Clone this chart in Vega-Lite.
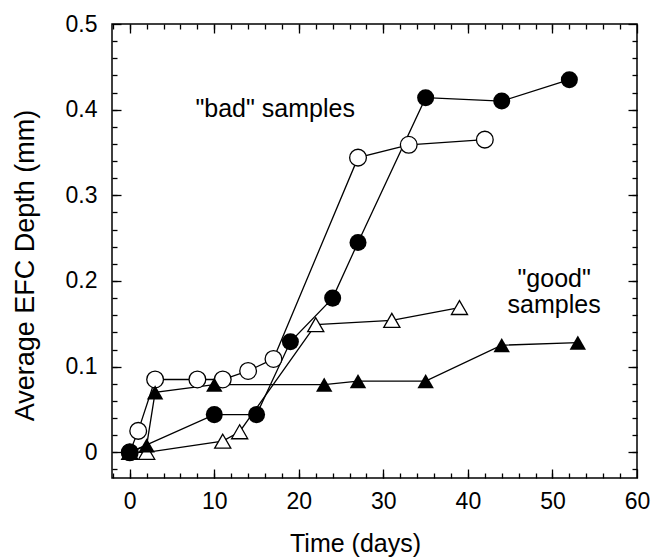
{
  "$schema": "https://vega.github.io/schema/vega-lite/v6.json",
  "width": 525,
  "height": 454,
  "autosize": "none",
  "padding": {"left": 112, "top": 24, "right": 15, "bottom": 79},
  "background": "white",
  "config": {
    "view": {"stroke": "black", "strokeWidth": 1.5},
    "font": "Liberation Sans",
    "axis": {
      "domain": false,
      "grid": false,
      "tickColor": "black",
      "tickWidth": 1.3,
      "labelColor": "black",
      "titleColor": "black",
      "labelFont": "Liberation Sans",
      "titleFont": "Liberation Sans",
      "labelFontSize": 23,
      "titleFontSize": 25,
      "titleFontWeight": "normal"
    }
  },
  "datasets": {
    "pts": [
      {"s": "A", "t": 0, "v": 0},
      {"s": "A", "t": 10, "v": 0.044},
      {"s": "A", "t": 15, "v": 0.044},
      {"s": "A", "t": 19, "v": 0.129},
      {"s": "A", "t": 24, "v": 0.18},
      {"s": "A", "t": 27, "v": 0.245},
      {"s": "A", "t": 35, "v": 0.414},
      {"s": "A", "t": 44, "v": 0.41},
      {"s": "A", "t": 52, "v": 0.435},
      {"s": "B", "t": 0, "v": 0},
      {"s": "B", "t": 1, "v": 0.025},
      {"s": "B", "t": 3, "v": 0.085},
      {"s": "B", "t": 8, "v": 0.085},
      {"s": "B", "t": 11, "v": 0.085},
      {"s": "B", "t": 14, "v": 0.095},
      {"s": "B", "t": 17, "v": 0.109},
      {"s": "B", "t": 27, "v": 0.344},
      {"s": "B", "t": 33, "v": 0.359},
      {"s": "B", "t": 42, "v": 0.365},
      {"s": "C", "t": 0, "v": 0},
      {"s": "C", "t": 2, "v": 0.008},
      {"s": "C", "t": 3, "v": 0.07},
      {"s": "C", "t": 10, "v": 0.079},
      {"s": "C", "t": 23, "v": 0.079},
      {"s": "C", "t": 27, "v": 0.083},
      {"s": "C", "t": 35, "v": 0.083},
      {"s": "C", "t": 44, "v": 0.125},
      {"s": "C", "t": 53, "v": 0.128},
      {"s": "D", "t": 0, "v": 0},
      {"s": "D", "t": 2, "v": 0},
      {"s": "D", "t": 11, "v": 0.013},
      {"s": "D", "t": 13, "v": 0.024},
      {"s": "D", "t": 22, "v": 0.149},
      {"s": "D", "t": 31, "v": 0.154},
      {"s": "D", "t": 39, "v": 0.169}
    ],
    "notes": [
      {"t": 17.2, "v": 0.392, "label": "\"bad\" samples"},
      {"t": 50.2, "v": 0.1933, "label": "\"good\""},
      {"t": 50.2, "v": 0.1623, "label": "samples"}
    ]
  },
  "layer": [
    {
      "data": {"name": "pts"},
      "mark": {"type": "line", "color": "black", "strokeWidth": 1.3},
      "encoding": {
        "x": {
          "field": "t", "type": "quantitative",
          "scale": {"domain": [-2.1, 60], "nice": false, "zero": false},
          "axis": {
            "orient": "bottom", "values": [0, 10, 20, 30, 40, 50, 60],
            "tickSize": -9, "labelPadding": 21, "labelBaseline": "top",
            "labelFlush": false,
            "title": "Time (days)", "titleX": 243, "titleY": 73.5,
            "titleBaseline": "alphabetic", "titleAlign": "center", "titleAnchor": null
          }
        },
        "y": {
          "field": "v", "type": "quantitative",
          "scale": {"domain": [-0.03, 0.5], "nice": false, "zero": false},
          "axis": {
            "orient": "left", "values": [0, 0.1, 0.2, 0.3, 0.4, 0.5],
            "tickSize": -9, "labelPadding": 24, "labelFlush": false,
            "labelExpr": "datum.value === 0 ? '0' : format(datum.value, '.1f')",
            "title": "Average EFC Depth (mm)", "titleX": -79, "titleY": 241,
            "titleAngle": -90, "titleBaseline": "alphabetic", "titleAlign": "center", "titleAnchor": null,
            "titleFontSize": 27
          }
        },
        "detail": {"field": "s"}
      }
    },
    {
      "data": {"name": "pts"},
      "transform": [{"filter": "datum.s === 'B' || datum.s === 'D'"}],
      "mark": {"type": "point", "filled": false, "fill": "white", "fillOpacity": 1, "stroke": "black", "strokeWidth": 1.3, "opacity": 1},
      "encoding": {
        "x": {
          "field": "t", "type": "quantitative",
          "scale": {"domain": [-2.1, 60], "nice": false, "zero": false},
          "axis": {"orient": "bottom", "values": [-2, 0, 2, 4, 6, 8, 10, 12, 14, 16, 18, 20, 22, 24, 26, 28, 30, 32, 34, 36, 38, 40, 42, 44, 46, 48, 50, 52, 54, 56, 58], "tickSize": -5, "labels": false, "title": null}
        },
        "y": {
          "field": "v", "type": "quantitative",
          "scale": {"domain": [-0.03, 0.5], "nice": false, "zero": false},
          "axis": {"orient": "left", "values": [-0.02, 0, 0.02, 0.04, 0.06, 0.08, 0.1, 0.12, 0.14, 0.16, 0.18, 0.2, 0.22, 0.24, 0.26, 0.28, 0.3, 0.32, 0.34, 0.36, 0.38, 0.4, 0.42, 0.44, 0.46, 0.48], "tickSize": -5, "labels": false, "title": null}
        },
        "shape": {"field": "s", "type": "nominal", "scale": {"domain": ["A", "B", "C", "D"], "range": ["circle", "circle", "triangle-up", "triangle-up"]}, "legend": null},
        "size": {"field": "s", "type": "nominal", "scale": {"domain": ["A", "B", "C", "D"], "range": [290, 260, 430, 430]}, "legend": null}
      }
    },
    {
      "data": {"name": "pts"},
      "transform": [{"filter": "datum.s === 'A' || datum.s === 'C'"}],
      "mark": {"type": "point", "filled": true, "color": "black", "opacity": 1},
      "encoding": {
        "x": {
          "field": "t", "type": "quantitative",
          "scale": {"domain": [-2.1, 60], "nice": false, "zero": false},
          "axis": {"orient": "top", "values": [0, 10, 20, 30, 40, 50, 60], "tickSize": -9, "labels": false, "title": null}
        },
        "y": {
          "field": "v", "type": "quantitative",
          "scale": {"domain": [-0.03, 0.5], "nice": false, "zero": false},
          "axis": {"orient": "right", "values": [0, 0.1, 0.2, 0.3, 0.4, 0.5], "tickSize": -9, "labels": false, "title": null}
        },
        "shape": {"field": "s", "type": "nominal", "scale": {"domain": ["A", "B", "C", "D"], "range": ["circle", "circle", "triangle-up", "triangle-up"]}, "legend": null},
        "size": {"field": "s", "type": "nominal", "scale": {"domain": ["A", "B", "C", "D"], "range": [290, 260, 430, 430]}, "legend": null}
      }
    },
    {
      "data": {"name": "notes"},
      "mark": {"type": "text", "align": "center", "baseline": "alphabetic", "fontSize": 25, "font": "Liberation Sans", "color": "black"},
      "encoding": {
        "x": {
          "field": "t", "type": "quantitative",
          "scale": {"domain": [-2.1, 60], "nice": false, "zero": false},
          "axis": {"orient": "top", "values": [-2, 0, 2, 4, 6, 8, 10, 12, 14, 16, 18, 20, 22, 24, 26, 28, 30, 32, 34, 36, 38, 40, 42, 44, 46, 48, 50, 52, 54, 56, 58], "tickSize": -5, "labels": false, "title": null}
        },
        "y": {
          "field": "v", "type": "quantitative",
          "scale": {"domain": [-0.03, 0.5], "nice": false, "zero": false},
          "axis": {"orient": "right", "values": [-0.02, 0, 0.02, 0.04, 0.06, 0.08, 0.1, 0.12, 0.14, 0.16, 0.18, 0.2, 0.22, 0.24, 0.26, 0.28, 0.3, 0.32, 0.34, 0.36, 0.38, 0.4, 0.42, 0.44, 0.46, 0.48], "tickSize": -5, "labels": false, "title": null}
        },
        "text": {"field": "label"}
      }
    }
  ],
  "resolve": {"axis": {"x": "independent", "y": "independent"}}
}
